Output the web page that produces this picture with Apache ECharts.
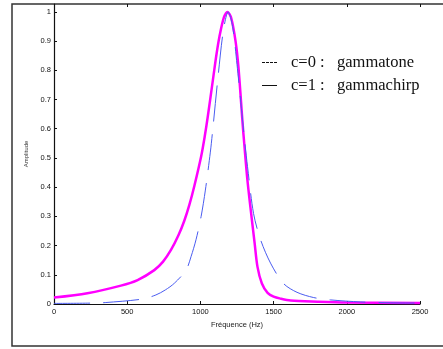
<!DOCTYPE html>
<html>
<head>
<meta charset="utf-8">
<script src="https://cdn.jsdelivr.net/npm/echarts@6/dist/echarts.min.js"></script>
<style>
  html, body { margin: 0; padding: 0; background: #fff; }
  #chart { width: 443px; height: 349px; }
</style>
</head>
<body>
<div id="chart"></div>
<script>
// gammachirp (c=1), magenta solid
const chirpFreq = [0, 228, 457, 571, 685, 745, 799, 850, 890, 925, 959, 1005, 1030, 1050, 1089, 1110, 1130, 1160, 1185, 1210, 1240, 1260, 1288, 1301, 1320, 1342, 1370, 1390, 1420, 1459, 1500, 1550, 1616, 1800, 2000, 2500]
const chirpAmp = [0.022, 0.037, 0.063, 0.082, 0.116, 0.145, 0.185, 0.235, 0.285, 0.34, 0.405, 0.505, 0.575, 0.64, 0.78, 0.855, 0.915, 0.98, 1.0, 0.98, 0.9, 0.81, 0.62, 0.54, 0.43, 0.33, 0.21, 0.127, 0.07, 0.038, 0.025, 0.018, 0.012, 0.008, 0.005, 0.003]

// gammatone (c=0), blue dashed
const toneFreq = [0, 250, 354, 605, 696, 760, 822, 902, 936, 970, 1005, 1034, 1068, 1082, 1123, 1158, 1190, 1220, 1250, 1280, 1300, 1322, 1363, 1411, 1479, 1568, 1660, 1774, 1890, 2096, 2300, 2500]
const toneAmp = [0.002, 0.003, 0.005, 0.017, 0.031, 0.048, 0.071, 0.116, 0.162, 0.22, 0.30, 0.39, 0.52, 0.585, 0.79, 0.94, 1.0, 0.95, 0.82, 0.67, 0.57, 0.47, 0.31, 0.22, 0.14, 0.07, 0.04, 0.022, 0.014, 0.007, 0.004, 0.003]

const xTicks = [0, 500, 1000, 1500, 2000, 2500]

const pairs = (xs, ys) => xs.map((x, i) => [x, ys[i]])

const chart = echarts.init(document.getElementById('chart'))

const tickLabel = {
  fontFamily: 'Liberation Sans, Arial, sans-serif',
  fontSize: 7.5,
  color: '#111',
}

const serif = 'Liberation Serif, Times New Roman, serif'
const legendText = (left, top, text) => ({
  type: 'text',
  left,
  top,
  style: { text, fontFamily: serif, fontSize: 16.5, fill: '#111' },
})

chart.setOption({
  animation: false,
  grid: {
    left: 54,
    right: 23,
    top: 4,
    bottom: 45,
  },
  xAxis: [
    {
      type: 'value',
      min: xTicks[0],
      max: xTicks[xTicks.length - 1],
      interval: 500,
      name: 'Fréquence (Hz)',
      nameLocation: 'middle',
      nameGap: 15,
      nameTextStyle: { fontFamily: 'Liberation Sans, Arial, sans-serif', fontSize: 7.5, color: '#222' },
      axisLine: { lineStyle: { color: '#111', width: 1.2 } },
      axisTick: { inside: true, length: 3, lineStyle: { color: '#111' } },
      axisLabel: { ...tickLabel, margin: 4, formatter: (v) => String(v) },
      splitLine: { show: false },
    },
    {
      type: 'value',
      position: 'top',
      min: xTicks[0],
      max: xTicks[xTicks.length - 1],
      interval: 500,
      axisLine: { show: false },
      axisTick: { inside: true, length: 3, lineStyle: { color: '#111' } },
      axisLabel: { show: false },
      splitLine: { show: false },
    },
  ],
  yAxis: {
    type: 'value',
    min: 0,
    max: 1.027,
    interval: 0.1,
    name: 'Amplitude',
    nameLocation: 'middle',
    nameGap: 22,
    nameTextStyle: { fontFamily: 'Liberation Sans, Arial, sans-serif', fontSize: 6, color: '#333' },
    axisLine: { show: true, lineStyle: { color: '#111', width: 1.2 } },
    axisTick: { show: true, inside: true, length: 3, lineStyle: { color: '#111' } },
    axisLabel: { ...tickLabel, margin: 3, showMaxLabel: false },
    splitLine: { show: false },
  },
  series: [
    {
      name: 'gammachirp',
      type: 'line',
      xAxisIndex: 0,
      data: pairs(chirpFreq, chirpAmp),
      smooth: 0.3,
      symbol: 'none',
      lineStyle: { color: '#ff00ff', width: 2.5 },
      z: 2,
    },
    {
      name: 'gammatone',
      type: 'line',
      xAxisIndex: 0,
      data: pairs(toneFreq, toneAmp),
      smooth: 0.3,
      symbol: 'none',
      lineStyle: { color: '#4a5cf0', width: 1, type: [36, 13] },
      z: 3,
    },
  ],
  graphic: [
    {
      type: 'rect',
      shape: { x: 12, y: 4, width: 440, height: 342 },
      style: { fill: 'none', stroke: '#333', lineWidth: 1.5 },
      silent: true,
    },
    {
      type: 'line',
      shape: { x1: 262, y1: 62.5, x2: 277, y2: 62.5 },
      style: { stroke: '#111', lineWidth: 1, lineDash: [3, 1] },
    },
    {
      type: 'line',
      shape: { x1: 262, y1: 85.5, x2: 277, y2: 85.5 },
      style: { stroke: '#111', lineWidth: 1 },
    },
    legendText(291, 54, 'c=0 :'),
    legendText(337, 54, 'gammatone'),
    legendText(291, 77, 'c=1 :'),
    legendText(337, 77, 'gammachirp'),
  ],
})
</script>
</body>
</html>
